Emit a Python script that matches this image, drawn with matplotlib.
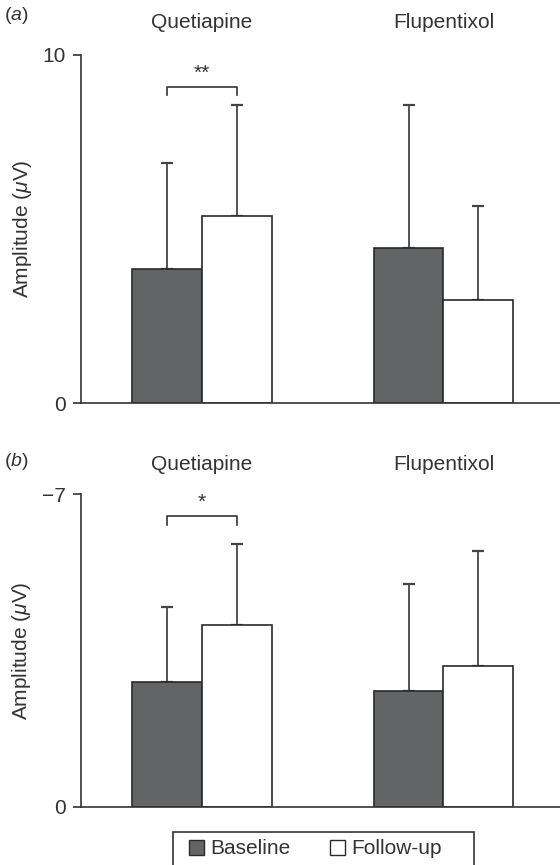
import numpy as np
import matplotlib
matplotlib.use("Agg")
import matplotlib.pyplot as plt
from matplotlib.patches import Patch, Rectangle

plt.rcParams["font.family"] = ["Liberation Sans", "DejaVu Sans"]
plt.rcParams["mathtext.fontset"] = "custom"
plt.rcParams["mathtext.it"] = "Liberation Sans:italic"
plt.rcParams["mathtext.rm"] = "Liberation Sans"

# ── Data ───────────────────────────────────────────────────────────────────────

DRUGS = ["Quetiapine", "Flupentixol"]

# panel (a): positive amplitude
baseline_a     = [3.86, 4.46]
baseline_a_sd  = [3.05, 4.10]
followup_a     = [5.39, 2.97]
followup_a_sd  = [3.17, 2.69]

# panel (b): negative amplitude
baseline_b     = [-2.79, -2.59]
baseline_b_sd  = [1.69, 2.39]
followup_b     = [-4.07, -3.15]
followup_b_sd  = [1.82, 2.59]

TEXT = "#333333"
DARK = "#636466"
EDGE = "#2a2a2a"
ERR = "#444444"
FS = 15

# ── Plot ───────────────────────────────────────────────────────────────────────

fig = plt.figure(figsize=(5.6, 8.65), dpi=100)

W, H = 560, 865
def px_axes(left, top, right, bottom):
    return fig.add_axes([left / W, 1 - bottom / H, (right - left) / W, (bottom - top) / H])

ax_a = px_axes(80.7, 55, 562, 403.3)
ax_b = px_axes(80.7, 494.3, 562, 806.7)

x = np.arange(1, len(DRUGS) + 1)
width = 0.289


def draw_panel(ax, base, base_sd, foll, foll_sd, ylim, ytick_labels, negative):
    xb = x - width / 2
    xf = x + width / 2
    ax.bar(xb, base, width, color=DARK, edgecolor=EDGE, linewidth=1.2, zorder=2)
    ax.bar(xf, foll, width, color="white", edgecolor=EDGE, linewidth=1.2, zorder=2)
    zeros = np.zeros(len(base))
    if negative:
        err_b = [base_sd, zeros]
        err_f = [foll_sd, zeros]
    else:
        err_b = [zeros, base_sd]
        err_f = [zeros, foll_sd]
    for xs, ys, err in ((xb, base, err_b), (xf, foll, err_f)):
        ax.errorbar(xs, ys, yerr=err, fmt="none", ecolor=ERR, elinewidth=1.3,
                    capsize=4.3, capthick=1.6, zorder=1)

    ax.set_xlim(0.5, 2.49)
    ax.set_ylim(*ylim)
    ax.set_yticks(list(ylim))
    ax.set_yticklabels(ytick_labels)
    ax.set_xticks([])
    for side in ("top", "right"):
        ax.spines[side].set_visible(False)
    for side in ("left", "bottom"):
        ax.spines[side].set_color(TEXT)
        ax.spines[side].set_linewidth(1.2)
    ax.tick_params(axis="y", direction="out", length=6, width=1.2, colors=TEXT,
                   labelsize=FS, pad=5)
    ax.set_ylabel(r"Amplitude ($\mathit{\mu}$V)", fontsize=FS, color=TEXT, labelpad=6)
    for xi, name in zip(x, DRUGS):
        ax.text(xi, 1.065, name, transform=ax.get_xaxis_transform(), ha="center",
                va="bottom", fontsize=FS, color=TEXT)
    return xb, xf


xb, xf = draw_panel(ax_a, baseline_a, baseline_a_sd, followup_a, followup_a_sd,
                    (0, 10), ["0", "10"], False)
ax_a.plot([xb[0], xb[0], xf[0], xf[0]], [8.85, 9.09, 9.09, 8.85], color=TEXT, lw=1.2)
ax_a.text(x[0], 9.2, "**", ha="center", va="bottom", fontsize=FS, color=TEXT)

xb, xf = draw_panel(ax_b, baseline_b, baseline_b_sd, followup_b, followup_b_sd,
                    (0, -7), ["0", "\u22127"], True)
ax_b.plot([xb[0], xb[0], xf[0], xf[0]], [-6.31, -6.51, -6.51, -6.31], color=TEXT, lw=1.2)
ax_b.text(x[0], -6.6, "*", ha="center", va="bottom", fontsize=FS, color=TEXT)

fig.text(4 / W, 1 - 16 / H, r"($\mathit{a}$)", fontsize=FS - 1, color=TEXT, va="center")
fig.text(4 / W, 1 - 461 / H, r"($\mathit{b}$)", fontsize=FS - 1, color=TEXT, va="center")

# legend box (its bottom runs off the figure)
fig.patches.append(Rectangle((173 / W, -0.02), (474 - 173) / W, 0.02 + 1 - 832 / H,
                             transform=fig.transFigure, facecolor="none",
                             edgecolor=TEXT, linewidth=1.2))
handles = [Patch(facecolor=DARK, edgecolor=EDGE, linewidth=1.0),
           Patch(facecolor="white", edgecolor=EDGE, linewidth=1.0)]
leg = fig.legend(handles, ["Baseline", "Follow-up"], loc="center left",
                 bbox_to_anchor=(189 / W, 1 - 849 / H), ncol=2, frameon=False,
                 fontsize=FS, handlelength=0.72, handleheight=0.72,
                 handletextpad=0.3, columnspacing=1.9, borderpad=0, borderaxespad=0)
for t in leg.get_texts():
    t.set_color(TEXT)

plt.savefig("out.png", dpi=100)
